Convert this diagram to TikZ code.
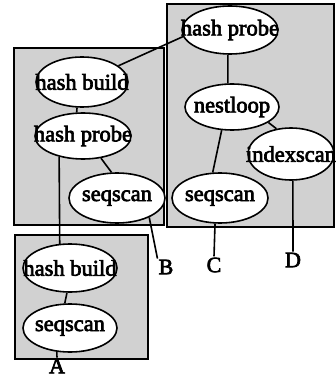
\documentclass[tikz,border=0pt]{standalone}
\usepackage{fontspec}
\setmainfont{Liberation Serif}
\newfontfamily\planfont[FakeBold=3]{Liberation Serif}
\usetikzlibrary{shapes.geometric}
\begin{document}
\begin{tikzpicture}[x=1pt,y=-1pt,
  region/.style={draw=black,line width=1.4pt,fill=black!18},
  op/.style={ellipse,draw=black,line width=1.6pt,fill=white,inner sep=0pt},
  tag/.style={inner sep=1pt,font=\planfont\fontsize{22}{24}\selectfont},
  link/.style={line width=1.6pt}]
\useasboundingbox (0,0) rectangle (335,379);
% fragment regions
\filldraw[region] (167,4) rectangle (334,227);
\filldraw[region] (14,48) rectangle (164,225);
\filldraw[region] (15,235) rectangle (148,359);
% operators
\newcommand{\opnode}[5]{\node[op,minimum width=#3,minimum height=#4] (#1) at #2 {\makebox[0pt]{\planfont\fontsize{22.5}{24}\selectfont #5}};}
\opnode{hpT}{(230,30)}{96pt}{48pt}{hash probe}
\opnode{nl}{(232,107)}{94pt}{46pt}{nestloop}
\opnode{ix}{(291,154)}{86pt}{52pt}{indexscan}
\opnode{sqR}{(220,198)}{96pt}{50pt}{seqscan}
\opnode{hb1}{(82,82)}{92pt}{50pt}{hash build}
\opnode{hp1}{(83,136)}{96pt}{46pt}{hash probe}
\opnode{sq1}{(117,198)}{96pt}{50pt}{seqscan}
\opnode{hb2}{(70,268)}{94pt}{48pt}{hash build}
\opnode{sq2}{(70,328)}{94pt}{48pt}{seqscan}
% scan labels
\node[tag] (A) at (57,366) {A};
\node[tag] (B) at (166,267) {B};
\node[tag] (C) at (214,265) {C};
\node[tag] (D) at (293,260) {D};
% plan edges
\draw[link] (hb1.24) -- (hpT.188);
\draw[link] (hb1.259) -- (hp1.105);
\draw[link] (hp1.309) -- (sq1.102);
\draw[link] (hp1.221) -- (hb2.113);
\draw[link] (hb2.263) -- (sq2.102);
\draw[link] (hpT.265) -- (nl.100);
\draw[link] (nl.246) -- (sqR.106);
\draw[link] (nl.337) -- (ix.120);
\draw[link] (sq2.241) -- (A.north);
\draw[link] (sq1.329) -- (B.north west);
\draw[link] (sqR.259) -- (C.north);
\draw[link] (ix.274) -- (D.north);
\end{tikzpicture}
\end{document}
